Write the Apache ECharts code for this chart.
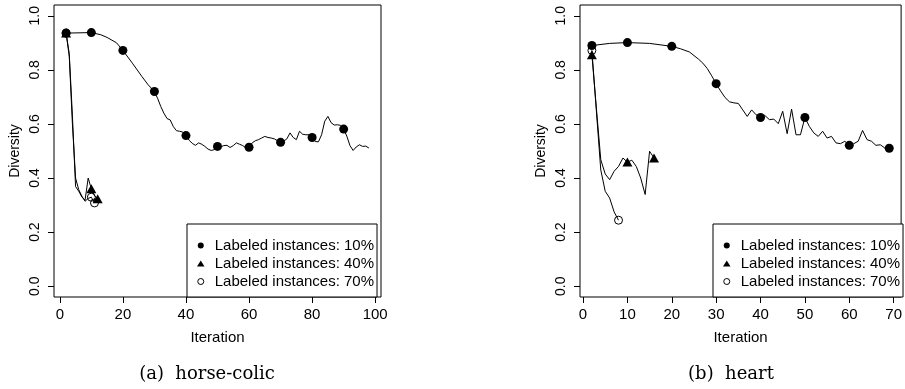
<!DOCTYPE html>
<html>
<head>
<meta charset="utf-8">
<script src="https://cdn.jsdelivr.net/npm/echarts@6/dist/echarts.min.js"></script>
<style>
  html, body { margin: 0; padding: 0; background: #fff; }
  #chart { width: 905px; height: 389px; }
</style>
</head>
<body>
<div id="chart"></div>
<script>
// (a) horse-colic
const hcIter10 = [2, 10, 13, 15, 18, 20, 23, 26, 28, 30, 31, 32, 33, 34, 35, 36, 37, 38, 39, 40,
  41, 42, 43, 44, 45, 46, 47, 48, 49, 50, 51, 52, 53, 54, 55, 56, 57, 58, 59, 60,
  61, 62, 63, 64, 65, 66, 67, 68, 69, 70, 71, 72, 73, 74, 75, 76, 77, 78, 79, 80,
  81, 82, 83, 84, 85, 86, 87, 88, 89, 90, 91, 92, 93, 94, 95, 96, 97, 98];
const hcDiv10 = [0.936, 0.938, 0.930, 0.920, 0.900, 0.872, 0.825, 0.776, 0.745, 0.720, 0.695, 0.665, 0.640, 0.620, 0.615, 0.590, 0.575, 0.573, 0.570, 0.557,
  0.540, 0.528, 0.521, 0.530, 0.525, 0.517, 0.507, 0.502, 0.505, 0.517, 0.515, 0.520, 0.521, 0.513, 0.520, 0.530, 0.525, 0.520, 0.512, 0.514,
  0.530, 0.538, 0.542, 0.548, 0.554, 0.550, 0.548, 0.545, 0.538, 0.532, 0.536, 0.545, 0.567, 0.550, 0.542, 0.573, 0.562, 0.560, 0.560, 0.550,
  0.535, 0.534, 0.560, 0.610, 0.628, 0.605, 0.596, 0.597, 0.595, 0.581, 0.555, 0.520, 0.502, 0.515, 0.523, 0.517, 0.518, 0.511];
const hcMarks10 = [2, 10, 20, 30, 40, 50, 60, 70, 80, 90];

const hcIter40 = [2, 3, 4, 5, 6, 7, 8, 9, 10, 11, 12];
const hcDiv40 = [0.936, 0.860, 0.630, 0.369, 0.351, 0.330, 0.318, 0.400, 0.360, 0.335, 0.323];
const hcMarks40 = [2, 10, 12];

const hcIter70 = [2, 3, 4, 5, 6, 7, 8, 9, 10, 11];
const hcDiv70 = [0.936, 0.850, 0.600, 0.400, 0.357, 0.333, 0.314, 0.325, 0.329, 0.308];
const hcMarks70 = [2, 10, 11];

// (b) heart
const htIter10 = [2, 6, 10, 15, 20, 22, 24, 26, 27, 28, 29, 30, 31, 32, 33, 34, 35, 36, 37, 38, 39, 40,
  41, 42, 43, 44, 45, 46, 47, 48, 49, 50, 51, 52, 53, 54, 55, 56, 57, 58, 59, 60,
  61, 62, 63, 64, 65, 66, 67, 68, 69];
const htDiv10 = [0.890, 0.898, 0.901, 0.898, 0.887, 0.878, 0.866, 0.840, 0.825, 0.805, 0.778, 0.749, 0.722, 0.698, 0.682, 0.678, 0.676, 0.652, 0.628, 0.652, 0.634, 0.624,
  0.631, 0.616, 0.618, 0.601, 0.647, 0.564, 0.655, 0.560, 0.560, 0.624, 0.591, 0.567, 0.554, 0.573, 0.548, 0.554, 0.530, 0.527, 0.536, 0.521,
  0.527, 0.536, 0.576, 0.542, 0.536, 0.521, 0.523, 0.511, 0.510];
const htMarks10 = [2, 10, 20, 30, 40, 50, 60, 69];

const htIter40 = [2, 3, 4, 5, 6, 7, 8, 9, 10, 11, 12, 13, 14, 15, 16];
const htDiv40 = [0.856, 0.660, 0.468, 0.415, 0.394, 0.425, 0.443, 0.474, 0.459, 0.466, 0.443, 0.400, 0.339, 0.499, 0.474];
const htMarks40 = [2, 10, 16];

const htIter70 = [2, 3, 4, 5, 6, 7, 8];
const htDiv70 = [0.872, 0.650, 0.430, 0.351, 0.326, 0.275, 0.244];
const htMarks70 = [2, 8];

const legendNames = ['Labeled instances: 10%', 'Labeled instances: 40%', 'Labeled instances: 70%'];
const xTicksA = [0, 20, 40, 60, 80, 100];
const xTicksB = [0, 10, 20, 30, 40, 50, 60, 70];
const yTicks = [0, 0.2, 0.4, 0.6, 0.8, 1.0];
const captions = ['(a)  horse-colic', '(b)  heart'];

const FONT = '"Liberation Sans", Arial, sans-serif';

const pairs = (xs, ys) => xs.map((x, i) => [x, ys[i]]);
const marks = (xs, ys, at) => at.map((it) => [it, ys[xs.indexOf(it)]]);

const markerStyle = [
  { symbol: 'circle', symbolSize: 9, itemStyle: { color: '#000', borderWidth: 0, opacity: 1 } },
  { symbol: 'triangle', symbolSize: [10, 9], itemStyle: { color: '#000', borderWidth: 0, opacity: 1 } },
  { symbol: 'circle', symbolSize: 8, itemStyle: { color: 'rgba(0,0,0,0)', borderColor: '#000', borderWidth: 1, opacity: 1 } }
];

function panelSeries(idx, sets) {
  const out = [];
  sets.forEach((s, k) => {
    out.push({
      name: 'curve-' + idx + '-' + k,
      type: 'line',
      xAxisIndex: idx,
      yAxisIndex: idx,
      data: pairs(s[0], s[1]),
      showSymbol: false,
      symbol: 'none',
      lineStyle: { color: '#000', width: 1 },
      z: 2
    });
  });
  sets.forEach((s, k) => {
    out.push({
      name: legendNames[k],
      type: 'scatter',
      xAxisIndex: idx,
      yAxisIndex: idx,
      data: marks(s[0], s[1], s[2]),
      ...markerStyle[k],
      z: 3
    });
  });
  return out;
}

function xAxisFor(idx, min, max, ticks) {
  return {
    type: 'value',
    gridIndex: idx,
    min: min,
    max: max,
    name: 'Iteration',
    nameLocation: 'middle',
    nameGap: 33,
    nameTextStyle: { fontFamily: FONT, fontSize: 15, color: '#000' },
    axisLine: { show: false, onZero: false },
    axisTick: { show: true, customValues: ticks, length: 6, lineStyle: { color: '#000', width: 1 } },
    axisLabel: { customValues: ticks, margin: 10, fontFamily: FONT, fontSize: 15, color: '#000' },
    splitLine: { show: false }
  };
}

function yAxisFor(idx) {
  return {
    type: 'value',
    gridIndex: idx,
    min: -0.04,
    max: 1.04,
    name: 'Diversity',
    nameLocation: 'middle',
    nameRotate: 90,
    nameGap: 32,
    nameTextStyle: { fontFamily: FONT, fontSize: 14, color: '#000' },
    axisLine: { show: false, onZero: false },
    axisTick: { show: true, customValues: yTicks, length: 6, lineStyle: { color: '#000', width: 1 } },
    axisLabel: {
      customValues: yTicks,
      rotate: 90,
      margin: 12,
      fontFamily: FONT,
      fontSize: 14,
      color: '#000',
      formatter: (v) => v.toFixed(1)
    },
    splitLine: { show: false }
  };
}

function legendAt(left) {
  return {
    orient: 'vertical',
    left: left,
    top: 224,
    padding: [14, 3, 8, 10],
    itemWidth: 18,
    itemHeight: 6,
    itemGap: 3,
    selectedMode: false,
    symbolKeepAspect: true,
    borderColor: '#000',
    borderWidth: 1,
    borderRadius: 0,
    backgroundColor: '#fff',
    textStyle: { fontFamily: FONT, fontSize: 15, color: '#000' },
    data: [
      { name: legendNames[0], icon: 'circle', itemStyle: { borderWidth: 0 } },
      { name: legendNames[1], icon: 'path://M0,8L5,0L10,8Z', itemStyle: { borderWidth: 0 } },
      { name: legendNames[2], icon: 'circle', itemStyle: { borderWidth: 1 } }
    ]
  };
}

const chart = echarts.init(document.getElementById('chart'));
chart.setOption({
  animation: false,
  backgroundColor: '#fff',
  grid: [
    { left: 54, top: 5, width: 327, height: 292, show: true, borderColor: '#000', borderWidth: 1, backgroundColor: 'transparent' },
    { left: 580, top: 5, width: 326, height: 292, show: true, borderColor: '#000', borderWidth: 1, backgroundColor: 'transparent' }
  ],
  xAxis: [
    xAxisFor(0, -1.84, 101.84, xTicksA),
    xAxisFor(1, -0.68, 71.68, xTicksB)
  ],
  yAxis: [yAxisFor(0), yAxisFor(1)],
  legend: [legendAt(187), legendAt(713)],
  series: [
    ...panelSeries(0, [
      [hcIter10, hcDiv10, hcMarks10],
      [hcIter40, hcDiv40, hcMarks40],
      [hcIter70, hcDiv70, hcMarks70]
    ]),
    ...panelSeries(1, [
      [htIter10, htDiv10, htMarks10],
      [htIter40, htDiv40, htMarks40],
      [htIter70, htDiv70, htMarks70]
    ])
  ],
  graphic: [
    { type: 'text', x: 207, y: 374, style: { text: captions[0], font: '18px "DejaVu Serif", serif', fill: '#000', align: 'center', verticalAlign: 'middle' } },
    { type: 'text', x: 731, y: 374, style: { text: captions[1], font: '18px "DejaVu Serif", serif', fill: '#000', align: 'center', verticalAlign: 'middle' } }
  ]
});
</script>
</body>
</html>
